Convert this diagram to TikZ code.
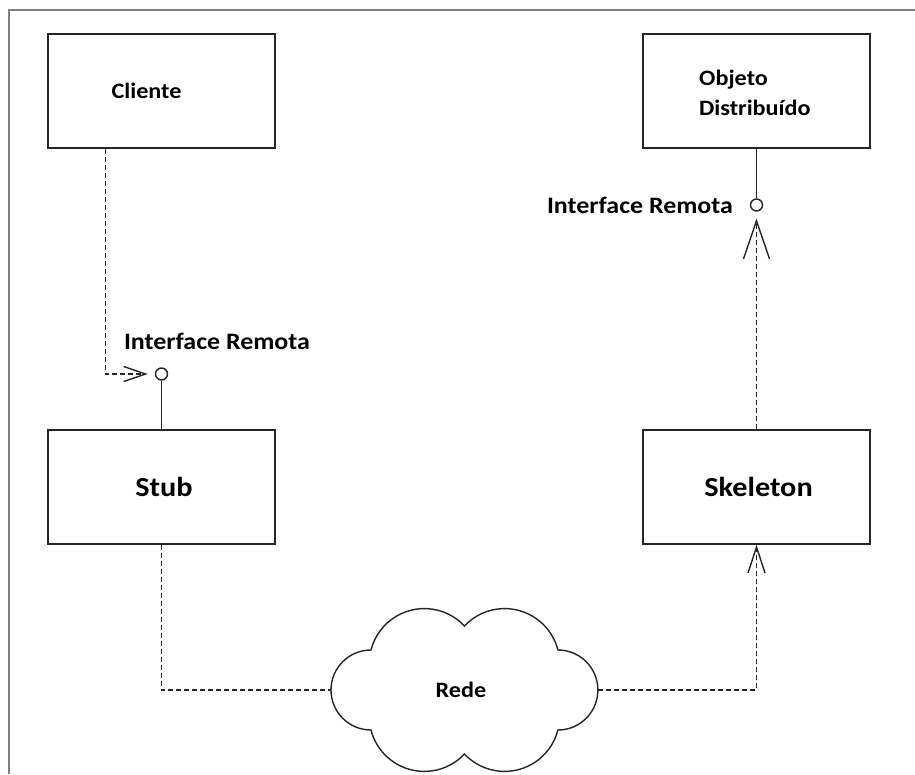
\documentclass[tikz,border=0pt]{standalone}
\usepackage{fontspec}
\setmainfont{Carlito}[FakeStretch=1.1]
\usetikzlibrary{arrows.meta}
\begin{document}
\begin{tikzpicture}[x=1pt,y=1pt,
  box/.style={draw=black!85, line width=1.5pt, minimum width=227pt, minimum height=114pt, inner sep=0pt},
  lbl/.style={font=\bfseries\fontsize{22}{30}\selectfont, text=black, inner sep=0pt},
  iflbl/.style={font=\bfseries\fontsize{23.6}{30}\selectfont, text=black, inner sep=0pt},
  big/.style={font=\bfseries\fontsize{27.5}{32}\selectfont, text=black, inner sep=0pt},
  dep/.style={draw=black!85, line width=1.4pt, dash pattern=on 5pt off 3pt},
  solidline/.style={draw=black!85, line width=1.4pt},
  lolli/.style={circle, draw=black!85, line width=1.4pt, minimum size=12pt, inner sep=0pt, fill=white},
  frameline/.style={draw=black!50, line width=2.5pt}]
\useasboundingbox (0,0) rectangle (915,774);
% frame (top and left edges)
\draw[frameline] (915,764) -- (9,764) -- (9,0);

% boxes
\node[box] (cliente) at (161.5,683) {};
\node[box] (objeto) at (756.5,683) {};
\node[box] (stub) at (161.5,287) {};
\node[box] (skeleton) at (756.5,287) {};

% texts
\node[lbl] (tcliente) at (146.5,683) {Cliente};
\node[lbl, align=left, anchor=west] (tobjeto) at (699,681) {Objeto\\Distribuído};
\node[big] (tstub) at (164,287) {Stub};
\node[big] (tskeleton) at (758.5,287) {Skeleton};

% cloud
\draw[solidline, fill=white] (371,124)
  arc[start angle=165.7, end angle=43.1, radius=55]
  arc[start angle=136.9, end angle=14.3, radius=55]
  arc[start angle=90, end angle=-90, radius=40]
  arc[start angle=-14.3, end angle=-136.9, radius=55]
  arc[start angle=-43.1, end angle=-165.7, radius=55]
  arc[start angle=-90, end angle=-270, radius=40] -- cycle;
\node[minimum width=267pt, minimum height=160pt, inner sep=0pt] (rede) at (464.5,84) {};
\node[lbl] (trede) at (461,84) {Rede};

% interfaces
\node[lolli] (ifl) at (161.5,400) {};
\node[lolli] (ifr) at (756.5,569) {};
\node[iflbl] (lblleft) at (217,433) {Interface Remota};
\node[iflbl] (lblright) at (640,569) {Interface Remota};

% connectors
\draw[solidline] (stub.north) -- (ifl.south);
\draw[solidline] (objeto.south) -- (ifr.north);
\draw[dep, -{Straight Barb[length=22pt,width=15pt]}, shorten >=7pt]
  ([xshift=58pt]cliente.south west) |- (ifl.west);
\draw[dep, -{Straight Barb[length=38pt,width=26pt]}, shorten >=7pt]
  (skeleton.north) -- (ifr.south);
\draw[dep] (stub.south) |- (rede.west);
\draw[dep, -{Straight Barb[length=26pt,width=17pt]}]
  (rede.east) -| (skeleton.south);
\end{tikzpicture}
\end{document}
